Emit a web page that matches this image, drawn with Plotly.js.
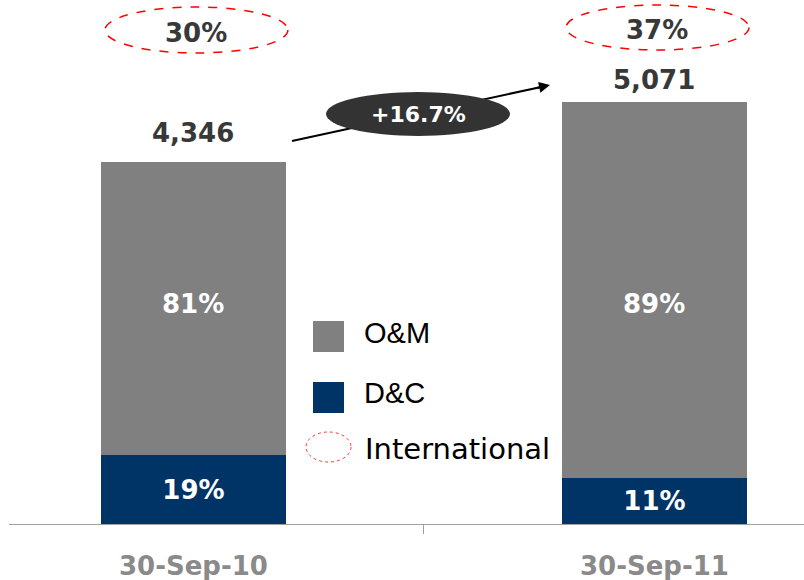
<!DOCTYPE html>
<html>
<head>
<meta charset="utf-8">
<script src="https://cdn.plot.ly/plotly-3.0.1.min.js"></script>
<style>html,body{margin:0;padding:0;background:#fff}#chart{width:804px;height:580px}</style>
</head>
<body>
<div id="chart"></div>
<script>
// ---- data ----
const categories = ["30-Sep-10", "30-Sep-11"];
const totals = [4346, 5071];
const dcShare = [19, 11];          // % D&C
const omShare = [81, 89];          // % O&M
const intlShare = [30, 37];        // % International
const growthLabel = "+16.7%";

const dcValues = totals.map((t, i) => t * dcShare[i] / 100);
const omValues = totals.map((t, i) => t * omShare[i] / 100);
const fmt = v => v.toLocaleString("en-US");

const BOLD = {family: "DejaVu Sans", weight: "bold"};
const barWidth = 0.401;

const traces = [
  {
    type: "bar", name: "D&C", x: categories, y: dcValues, width: barWidth,
    marker: {color: "#003366"},
    text: dcShare.map(s => s + "%"), textposition: "inside", insidetextanchor: "middle",
    textangle: 0, constraintext: "none",
    textfont: Object.assign({size: 26, color: "#ffffff"}, BOLD),
    hoverinfo: "skip"
  },
  {
    type: "bar", name: "O&M", x: categories, y: omValues, width: barWidth,
    marker: {color: "#808080"},
    textposition: "none",
    hoverinfo: "skip"
  }
];

const annotations = [];
const shapes = [];

// O&M share labels (placed at a common height, as in the reference)
categories.forEach((c, i) => {
  annotations.push({
    x: c, y: 1, xref: "x", yref: "paper", text: omShare[i] + "%",
    showarrow: false, yanchor: "middle", yshift: -304,
    font: Object.assign({size: 26, color: "#ffffff"}, BOLD)
  });
});

// totals above bars
const totalShift = [12, 5];
categories.forEach((c, i) => {
  annotations.push({
    x: c, y: totals[i], xref: "x", yref: "y", text: fmt(totals[i]),
    showarrow: false, yanchor: "bottom", yshift: totalShift[i],
    font: Object.assign({size: 26, color: "#383838"}, BOLD)
  });
});

// international ellipses at top
const ellTop = [7, 5], ellBot = [53, 50], ellDx = [3, 3], intlTextY = [33, 30];
categories.forEach((c, i) => {
  shapes.push({
    type: "circle", xref: "x", yref: "paper", xsizemode: "pixel", ysizemode: "pixel",
    xanchor: i, yanchor: 1,
    x0: -91.5 + ellDx[i], x1: 91.5 + ellDx[i], y0: -ellBot[i], y1: -ellTop[i],
    line: {color: "#ff0000", width: 1.5, dash: "dash"}, fillcolor: "rgba(0,0,0,0)", layer: "above"
  });
  annotations.push({
    x: c, y: 1, xref: "x", yref: "paper", text: intlShare[i] + "%",
    showarrow: false, yanchor: "middle", yshift: -intlTextY[i], xshift: ellDx[i],
    font: Object.assign({size: 26, color: "#383838"}, BOLD)
  });
});

// growth arrow: line (shape) + ellipse + arrowhead
const L = 9; // left margin px
const px = p => p - L;
shapes.push({
  type: "line", xref: "paper", yref: "paper", xsizemode: "pixel", ysizemode: "pixel",
  xanchor: 0, yanchor: 1, x0: px(292), y0: -141, x1: px(540), y1: -87.2,
  line: {color: "#000000", width: 2}, layer: "above"
});
shapes.push({
  type: "circle", xref: "paper", yref: "paper", xsizemode: "pixel", ysizemode: "pixel",
  xanchor: 0, yanchor: 1, x0: px(326), x1: px(510), y0: -136, y1: -92,
  line: {width: 0}, fillcolor: "#333333", layer: "above"
});
annotations.push({
  x: 0, y: 1, xref: "paper", yref: "paper", xanchor: "center", yanchor: "middle",
  xshift: px(418), yshift: -114, text: growthLabel, showarrow: false,
  font: Object.assign({size: 22, color: "#ffffff"}, BOLD)
});
annotations.push({
  x: (550 - L) / 795, y: 1 - 85 / 524, xref: "paper", yref: "paper", text: "",
  showarrow: true, ax: -16, ay: 3.5, arrowhead: 2, arrowsize: 1.1, arrowwidth: 2, arrowcolor: "#000000"
});

// legend (manual)
const legendItems = [
  {label: "O&M", color: "#808080", top: 321, textY: 333, font: "Liberation Sans"},
  {label: "D&C", color: "#003366", top: 382, textY: 393, font: "Liberation Sans"}
];
legendItems.forEach(it => {
  shapes.push({
    type: "rect", xref: "paper", yref: "paper", xsizemode: "pixel", ysizemode: "pixel",
    xanchor: 0, yanchor: 1, x0: px(313), x1: px(344), y0: -(it.top + 31), y1: -it.top,
    line: {width: 0}, fillcolor: it.color, layer: "above"
  });
  annotations.push({
    x: 0, y: 1, xref: "paper", yref: "paper", xanchor: "left", yanchor: "middle",
    xshift: px(362), yshift: -it.textY, text: it.label, showarrow: false,
    font: {family: it.font, size: 29, color: "#000000"}
  });
});
shapes.push({
  type: "circle", xref: "paper", yref: "paper", xsizemode: "pixel", ysizemode: "pixel",
  xanchor: 0, yanchor: 1, x0: px(306), x1: px(351), y0: -462, y1: -432,
  line: {color: "#ff3333", width: 1, dash: "dot"}, fillcolor: "rgba(0,0,0,0)", layer: "above"
});
annotations.push({
  x: 0, y: 1, xref: "paper", yref: "paper", xanchor: "left", yanchor: "middle",
  xshift: px(363), yshift: -449, text: "International", showarrow: false,
  font: {family: "DejaVu Sans", size: 29, color: "#000000"}
});

const layout = {
  width: 804, height: 580,
  margin: {l: L, r: 0, t: 0, b: 56},
  paper_bgcolor: "#ffffff", plot_bgcolor: "#ffffff",
  barmode: "stack", showlegend: false, hovermode: false,
  xaxis: {
    type: "category", range: [-0.4, 1.3243], fixedrange: true,
    showline: true, linecolor: "#a0a0a0", linewidth: 1,
    tickson: "boundaries", ticks: "outside", ticklen: 9, tickcolor: "#a0a0a0", tickwidth: 1,
    ticklabelstandoff: 19,
    tickfont: Object.assign({size: 26, color: "#8a8a8a"}, BOLD),
    showgrid: false, zeroline: false
  },
  yaxis: {
    range: [0, 6290], visible: false, showgrid: false, zeroline: false, fixedrange: true
  },
  shapes: shapes,
  annotations: annotations
};

Plotly.newPlot("chart", traces, layout, {staticPlot: true, displayModeBar: false});
</script>
</body>
</html>
